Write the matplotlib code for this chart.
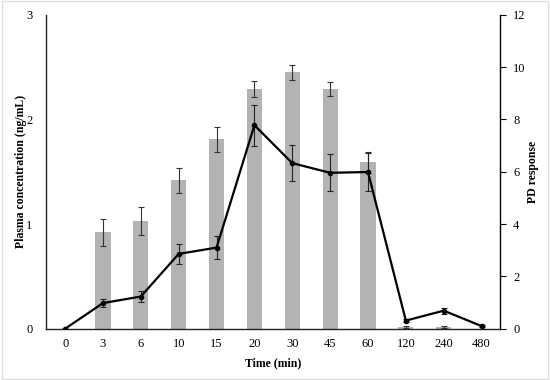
import matplotlib.pyplot as plt
import numpy as np

times = ['0', '3', '6', '10', '15', '20', '30', '45', '60', '120', '240', '480']
plasma = [0, 0.92, 1.03, 1.42, 1.81, 2.29, 2.45, 2.29, 1.59, 0.02, 0.02, 0]
plasma_err = [0, 0.13, 0.13, 0.12, 0.12, 0.08, 0.07, 0.07, 0.10, 0.01, 0.01, 0]
pd_resp = [0, 0.98, 1.23, 2.86, 3.10, 7.78, 6.33, 5.96, 5.99, 0.31, 0.69, 0.10]
pd_err = [0, 0.15, 0.2, 0.37, 0.43, 0.78, 0.7, 0.7, 0.73, 0.05, 0.12, 0.03]

plt.rcParams['font.family'] = ['Liberation Serif', 'DejaVu Serif']

fig = plt.figure(figsize=(5.5, 3.8), dpi=100)
ax = fig.add_axes([0.084, 0.135, 0.826, 0.826])
x = np.arange(len(times))

ax.bar(x, plasma, width=0.4, color='#b3b3b3', zorder=1)
ax.errorbar(x, plasma, yerr=plasma_err, fmt='none', ecolor='#333333',
            elinewidth=0.8, capsize=2, capthick=0.8, zorder=2)
ax.set_ylim(0, 3)
ax.set_xlim(-0.5, len(times) - 0.5)
ax.set_yticks([0, 1, 2, 3])
ax.set_xticks(x)
ax.set_xticklabels(times)
ax.tick_params(axis='both', length=0, labelsize=9, pad=7)
ax.tick_params(axis='y', pad=10)
ax.set_ylabel('Plasma concentration (ng/mL)', fontsize=8.5, fontweight='bold')
ax.yaxis.set_label_coords(-0.042, 0.5)
ax.set_xlabel('Time (min)', fontsize=8.5, fontweight='bold', labelpad=5)
ax.spines['top'].set_visible(False)
ax.spines['right'].set_visible(False)
for s in ['left', 'bottom']:
    ax.spines[s].set_color('#222222')
    ax.spines[s].set_linewidth(1)

ax2 = ax.twinx()
ax2.errorbar(x, pd_resp, yerr=pd_err, color='black', lw=1.6, marker='o',
             markersize=3, ecolor='#222222', elinewidth=0.8, capsize=2,
             capthick=0.8, zorder=3)
ax2.set_ylim(0, 12)
ax2.set_yticks(range(0, 13, 2))
ax2.tick_params(axis='y', direction='out', length=4, labelsize=9, pad=5)
ax2.set_ylabel('PD response', fontsize=8.5, fontweight='bold')
ax2.yaxis.set_label_coords(1.059, 0.5)
ax2.spines['top'].set_visible(False)
ax2.spines['left'].set_visible(False)
ax2.spines['bottom'].set_visible(False)
ax2.spines['right'].set_linewidth(1)

fig.patches.append(plt.Rectangle((0.003, 0.003), 0.994, 0.994, transform=fig.transFigure,
                                 fill=False, edgecolor='#dddddd', lw=1))

fig.savefig('out.png', dpi=100)
